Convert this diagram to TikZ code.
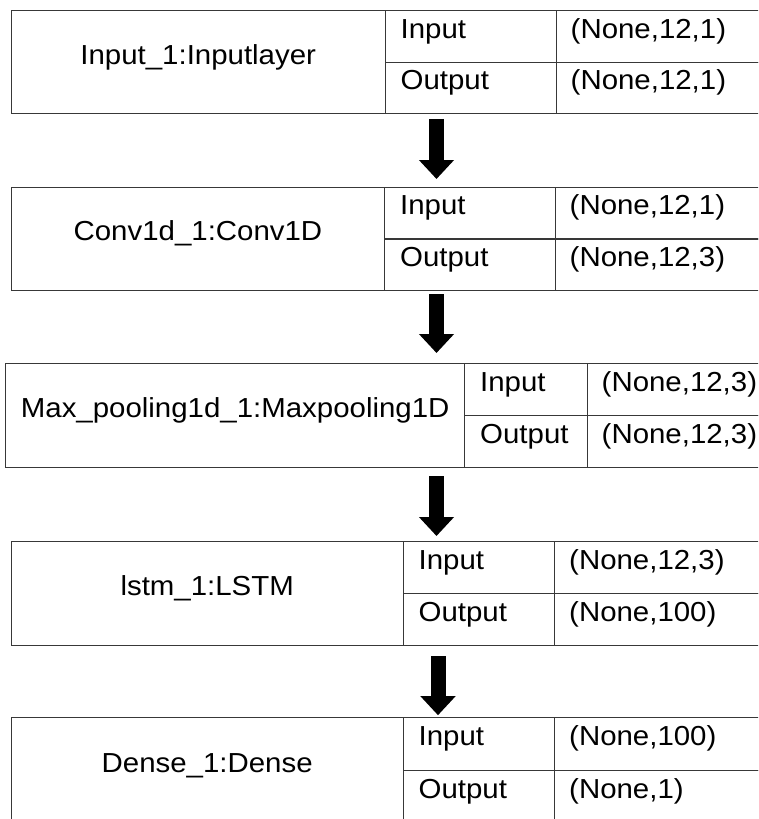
\documentclass[tikz,border=0pt]{standalone}
\usepackage{fontspec}
\setmainfont{Liberation Sans}[FakeStretch=1.07]
\usetikzlibrary{arrows.meta,calc}
\tikzset{
  cell/.style={draw=black!78, line width=1.4pt, rectangle, inner sep=0pt, anchor=north west},
  txt/.style={inner sep=0pt, font=\fontsize{27.5}{32}\selectfont, text=black},
  bigarrow/.style={line width=15pt, draw=black, -{Triangle[width=34pt,length=19pt]}}
}
\newcommand\mklayer[9]{%
  \pgfmathsetmacro\lw{#5-#4}\pgfmathsetmacro\lh{#3-#2}%
  \pgfmathsetmacro\rh{(#3-#2)/2}\pgfmathsetmacro\md{(#3+#2)/2}%
  \pgfmathsetmacro\nw{#6-#5}\pgfmathsetmacro\vw{790-#6}%
  \node[cell, minimum width=\lw pt, minimum height=\lh pt] (#1) at (#4,#2) {};
  \node[cell, minimum width=\nw pt, minimum height=\rh pt] (#1-in) at (#5,#2) {};
  \node[cell, minimum width=\nw pt, minimum height=\rh pt] (#1-out) at (#5,\md) {};
  \node[cell, minimum width=\vw pt, minimum height=\rh pt] (#1-inv) at (#6,#2) {};
  \node[cell, minimum width=\vw pt, minimum height=\rh pt] (#1-outv) at (#6,\md) {};
  \node[txt, anchor=base] (#1-lab) at ([yshift=-1.8pt]#1.center) {#7};
  \node[txt, anchor=base west] (#1-int) at ([xshift=16pt,yshift=-28.3pt]#1-in.north west) {Input};
  \node[txt, anchor=base west] (#1-outt) at ([xshift=16pt,yshift=-28.3pt]#1-out.north west) {Output};
  \node[txt, anchor=base west] (#1-invt) at ([xshift=15pt,yshift=-28.3pt]#1-inv.north west) {#8};
  \node[txt, anchor=base west] (#1-outvt) at ([xshift=15pt,yshift=-28.3pt]#1-outv.north west) {#9};
}
\begin{document}
\begin{tikzpicture}[x=1pt,y=-1pt]
\useasboundingbox (0,0) rectangle (758,819);
\clip (0,0) rectangle (758,819);
\fill[white] (0,0) rectangle (758,819);
\mklayer{b1}{10}{113}{10.5}{384.5}{555.5}{Input\_1:Inputlayer}{(None,12,1)}{(None,12,1)}
\mklayer{b2}{186.5}{290}{10.5}{384}{554.5}{Conv1d\_1:Conv1D}{(None,12,1)}{(None,12,3)}
\mklayer{b3}{363}{466.7}{5}{464}{586.5}{Max\_pooling1d\_1:Maxpooling1D}{(None,12,3)}{(None,12,3)}
\mklayer{b4}{541}{645}{10.5}{402.5}{554}{lstm\_1:LSTM}{(None,12,3)}{(None,100)}
\mklayer{b5}{716.7}{823.3}{10.5}{402.5}{554}{Dense\_1:Dense}{(None,100)}{(None,1)}
\coordinate (ax) at (436.5,0);
\coordinate (ax4) at (438,0);
\draw[bigarrow, shorten <=4.5pt, shorten >=7.5pt] (ax |- b1.south) -- (ax |- b2.north);
\draw[bigarrow, shorten <=3pt, shorten >=10pt] (ax |- b2.south) -- (ax |- b3.north);
\draw[bigarrow, shorten <=8pt, shorten >=5pt] (ax |- b3.south) -- (ax |- b4.north);
\draw[bigarrow, shorten <=10pt, shorten >=1.5pt] (ax4 |- b4.south) -- (ax4 |- b5.north);
\end{tikzpicture}
\end{document}
